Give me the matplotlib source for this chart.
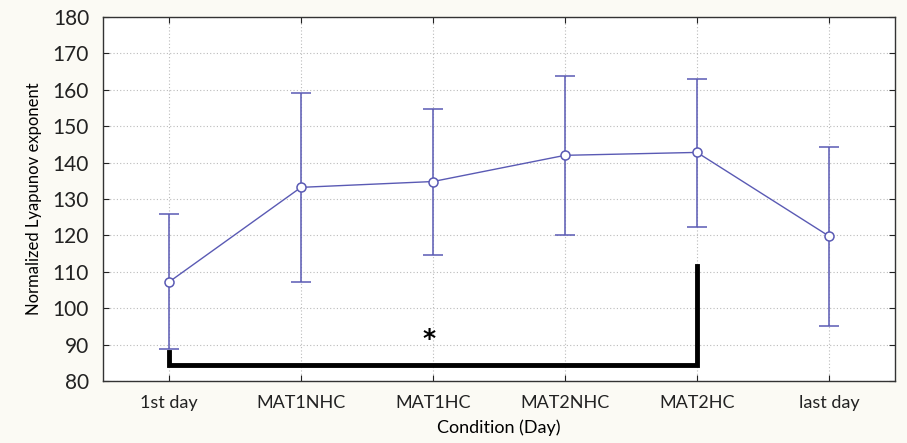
import matplotlib.pyplot as plt

# data
conditions = ['1st day', 'MAT1NHC', 'MAT1HC', 'MAT2NHC', 'MAT2HC', 'last day']
means = [107.2, 133.2, 134.8, 142.0, 142.8, 119.8]
upper = [125.9, 159.2, 154.8, 163.8, 163.0, 144.3]
lower = [88.8, 107.3, 114.7, 120.0, 122.4, 95.0]

# significance bracket 1st day vs MAT2HC
sig_pair = (0, 4)
sig_left_top = 88.0
sig_right_top = 111.5
sig_base = 84.5
sig_star_y = 91.5

line_col = '#5a5ab4'
bg = '#fbfaf4'

plt.rcParams['font.family'] = ['Lato', 'DejaVu Sans']

fig = plt.figure(figsize=(9.07, 4.43), dpi=100, facecolor=bg)
ax = fig.add_axes([103 / 907, 1 - 381 / 443, 792 / 907, 364 / 443])
ax.set_facecolor('white')

x = list(range(len(conditions)))
err_lo = [m - l for m, l in zip(means, lower)]
err_hi = [u - m for m, u in zip(means, upper)]

ax.errorbar(x, means, yerr=[err_lo, err_hi], color=line_col, lw=1.0,
            elinewidth=1.1, capsize=7, capthick=1.1, marker='o', ms=6.5,
            mfc='white', mec=line_col, mew=1.1, zorder=3)

# bracket
i0, i1 = sig_pair
ax.plot([i0, i0, i1, i1], [sig_left_top, sig_base, sig_base, sig_right_top],
        color='black', lw=3.5, solid_joinstyle='miter', zorder=4)
ax.text((i0 + i1) / 2 - 0.03, sig_star_y, '*', ha='center', va='center',
        fontsize=18, fontweight='bold', family='DejaVu Sans')

ax.set_xlim(-0.5, 5.5)
ax.set_ylim(80, 180)
ax.set_xticks(x)
ax.set_xticklabels(conditions)
ax.set_yticks(range(80, 181, 10))
ax.tick_params(direction='in', top=True, right=True, length=4, labelsize=13,
               colors='#222222', pad=10)
ax.tick_params(axis='y', labelsize=15, pad=10)
ax.grid(True, linestyle=(0, (1, 2)), color='#bbbbbb', lw=0.8, zorder=0)
for s in ax.spines.values():
    s.set_color('#333333')
    s.set_linewidth(1.0)

ax.set_xlabel('Condition (Day)', fontsize=13, labelpad=6)
ax.set_ylabel('Normalized Lyapunov exponent', fontsize=12, labelpad=8)

plt.savefig('out.png', dpi=100, facecolor=bg)
